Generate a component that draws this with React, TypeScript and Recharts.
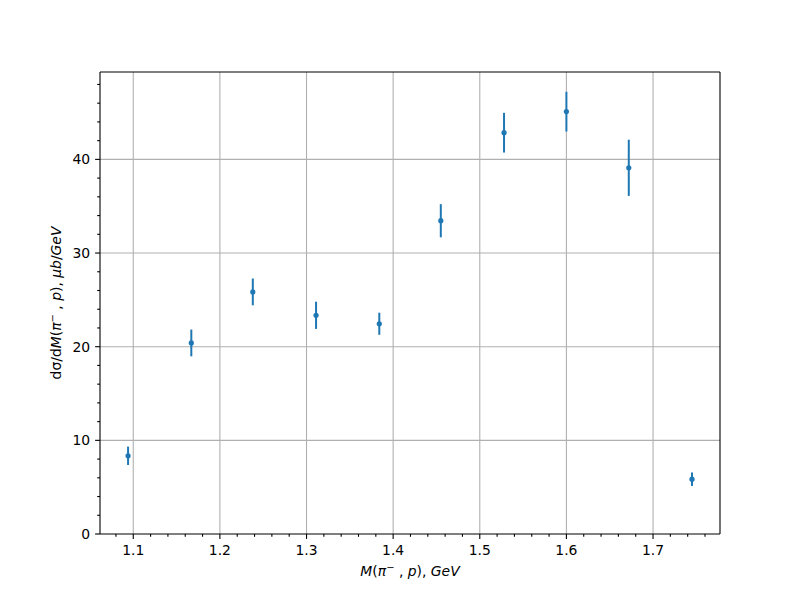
import React from 'react';
import { ScatterChart, Scatter, XAxis, YAxis, ReferenceLine, ErrorBar } from 'recharts';

// invariant mass bins (GeV) and cross section values (ub/GeV) with errors
const mass = [1.094, 1.167, 1.238, 1.311, 1.384, 1.455, 1.528, 1.600, 1.672, 1.745];
const xsec = [8.35, 20.4, 25.85, 23.35, 22.45, 33.45, 42.85, 45.1, 39.1, 5.85];
const xsecErr = [0.98, 1.43, 1.43, 1.45, 1.18, 1.77, 2.12, 2.12, 3.0, 0.72];

const xMajor = [1.1, 1.2, 1.3, 1.4, 1.5, 1.6, 1.7];
const xMinor = [1.08, 1.12, 1.14, 1.16, 1.18, 1.22, 1.24, 1.26, 1.28, 1.32, 1.34, 1.36, 1.38,
  1.42, 1.44, 1.46, 1.48, 1.52, 1.54, 1.56, 1.58, 1.62, 1.64, 1.66, 1.68, 1.72, 1.74, 1.76];
const yMajor = [0, 10, 20, 30, 40];
const yMinor = [2, 4, 6, 8, 12, 14, 16, 18, 22, 24, 26, 28, 32, 34, 36, 38, 42, 44, 46, 48];

const xDomain = [1.0616, 1.7773];
const yDomain = [0, 49.33];

const data = mass.map((m, i) => ({ m, v: xsec[i], err: xsecErr[i] }));

const BLUE = '#1f77b4';
const GRID = '#b0b0b0';
const FONT = 'DejaVu Sans';
const FS = 13.9;

function XTick(props: any) {
  const { x, y, payload } = props;
  const major = xMajor.includes(payload.value);
  return (
    <g>
      <line x1={x} x2={x} y1={y} y2={y + (major ? 4.9 : 2.8)} stroke="#000" strokeWidth={1.1} />
      {major && (
        <text x={x} y={y + 9.8} dy="0.78em" textAnchor="middle" fontFamily={FONT} fontSize={FS} fill="#000">
          {payload.value.toFixed(1)}
        </text>
      )}
    </g>
  );
}

function YTick(props: any) {
  const { x, y, payload } = props;
  const major = yMajor.includes(payload.value);
  return (
    <g>
      <line x1={x} x2={x - (major ? 4.9 : 2.8)} y1={y} y2={y} stroke="#000" strokeWidth={1.1} />
      {major && (
        <text x={x - 9.8} y={y} dy="0.36em" textAnchor="end" fontFamily={FONT} fontSize={FS} fill="#000">
          {payload.value}
        </text>
      )}
    </g>
  );
}

export default function App() {
  return (
    <div style={{ position: 'absolute', left: 0, top: 0, width: 800, height: 600, background: '#fff' }}>
      <ScatterChart width={800} height={600} margin={{ top: 72, right: 80, bottom: 26, left: 50 }}>
        {/* grid lines at the major ticks */}
        {xMajor.map(v => (
          <ReferenceLine key={'gx' + v} x={v} stroke={GRID} strokeWidth={1.1} />
        ))}
        {yMajor.filter(v => v > 0).map(v => (
          <ReferenceLine key={'gy' + v} y={v} stroke={GRID} strokeWidth={1.1} />
        ))}
        {/* top and right spines */}
        <ReferenceLine y={yDomain[1]} stroke="#000" strokeWidth={1.1} />
        <ReferenceLine x={xDomain[1]} stroke="#000" strokeWidth={1.1} />
        <XAxis
          type="number"
          dataKey="m"
          domain={xDomain}
          allowDataOverflow
          ticks={[...xMajor, ...xMinor]}
          interval={0}
          tickSize={0}
          tickMargin={0}
          tickLine={false}
          tick={<XTick />}
          height={40}
          axisLine={{ stroke: '#000', strokeWidth: 1.1 }}
        />
        <YAxis
          type="number"
          dataKey="v"
          domain={yDomain}
          allowDataOverflow
          ticks={[...yMajor, ...yMinor]}
          interval={0}
          tickSize={0}
          tickMargin={0}
          tickLine={false}
          tick={<YTick />}
          width={50}
          axisLine={{ stroke: '#000', strokeWidth: 1.1 }}
        />
        <Scatter data={data} fill={BLUE} isAnimationActive={false}
          shape={(p: any) => <circle cx={p.cx} cy={p.cy} r={2.6} fill={BLUE} />}>
          <ErrorBar dataKey="err" direction="y" width={0} stroke={BLUE} strokeWidth={2} isAnimationActive={false} />
        </Scatter>
      </ScatterChart>
      <div style={{ position: 'absolute', left: 0, top: 0, pointerEvents: 'none' }}>
        <svg width={800} height={600}>
          <text x={410} y={576} textAnchor="middle" fontFamily={FONT} fontSize={FS} fill="#000">
            <tspan fontStyle="italic">M</tspan>(<tspan fontStyle="italic">π</tspan>
            <tspan dy={-5} fontSize={10}>−</tspan>
            <tspan dy={5}> , </tspan><tspan fontStyle="italic">p</tspan>), <tspan fontStyle="italic">GeV</tspan>
          </text>
          <text x={0} y={0} transform="translate(61,303) rotate(-90)" textAnchor="middle" fontFamily={FONT} fontSize={FS} fill="#000">
            dσ/d<tspan fontStyle="italic">M</tspan>(<tspan fontStyle="italic">π</tspan>
            <tspan dy={-5} fontSize={10}>−</tspan>
            <tspan dy={5}> , </tspan><tspan fontStyle="italic">p</tspan>), <tspan fontStyle="italic">μb</tspan>/<tspan fontStyle="italic">GeV</tspan>
          </text>
        </svg>
      </div>
    </div>
  );
}
